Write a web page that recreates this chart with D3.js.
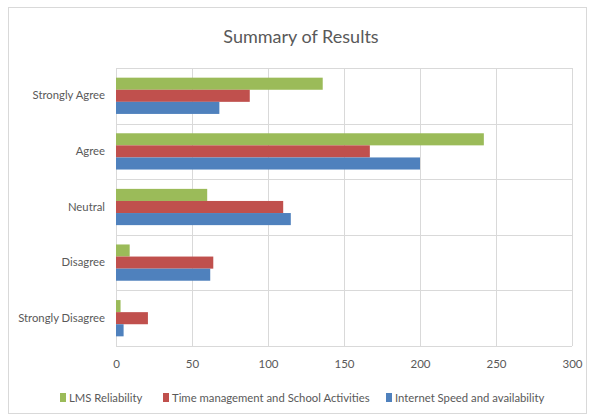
<!DOCTYPE html>
<html>
<head>
<meta charset="utf-8">
<script src="https://cdn.jsdelivr.net/npm/d3@7"></script>
<style>
  html, body { margin: 0; padding: 0; background: #fff; }
  svg { display: block; }
  text { font-family: Lato, "Open Sans", sans-serif; fill: #595959; }
</style>
</head>
<body>
<svg id="chart" width="589" height="420"></svg>
<script>
// Survey responses per category, one array per series
const categories = ["Strongly Agree", "Agree", "Neutral", "Disagree", "Strongly Disagree"];
const seriesNames = ["LMS Reliability", "Time management and School Activities", "Internet Speed and availability"];
const lmsReliability = [136, 242, 60, 9, 3];
const timeManagement = [88, 167, 110, 64, 21];
const internetSpeed = [68, 200, 115, 62, 5];
const xTicks = [0, 50, 100, 150, 200, 250, 300];
const colors = ["#9BBB59", "#C0504D", "#4F81BD"];

const seriesValues = [lmsReliability, timeManagement, internetSpeed];
const rows = categories.map((c, i) => ({
  category: c,
  values: seriesValues.map((vals, s) => ({ series: seriesNames[s], value: vals[i], idx: s }))
}));

const svg = d3.select("#chart");
const W = 589, H = 420;
const margin = { left: 116, right: 17, top: 68, bottom: 74 };
const plotW = W - margin.left - margin.right;
const plotH = H - margin.top - margin.bottom;

// Chart frame
svg.append("rect")
  .attr("x", 8.5).attr("y", 7.5)
  .attr("width", 578).attr("height", 406)
  .attr("fill", "#fff").attr("stroke", "#D9D9D9");

svg.append("text")
  .attr("x", 301).attr("y", 43)
  .attr("text-anchor", "middle")
  .style("font-size", "18px")
  .text("Summary of Results");

const g = svg.append("g").attr("transform", `translate(${margin.left},${margin.top})`);

const x = d3.scaleLinear().domain([0, 300]).range([0, plotW]);
const y = d3.scaleBand().domain(categories).range([0, plotH]);
const inner = d3.scaleBand().domain(seriesNames)
  .range([0, y.bandwidth()]).paddingOuter(0.8);

// Vertical gridlines
g.append("g").selectAll("line").data(xTicks).join("line")
  .attr("x1", d => Math.round(x(d)) + 0.5).attr("x2", d => Math.round(x(d)) + 0.5)
  .attr("y1", 0).attr("y2", plotH)
  .attr("stroke", "#D9D9D9");

// Horizontal band separators
g.append("g").selectAll("line").data(d3.range(categories.length + 1)).join("line")
  .attr("x1", 0).attr("x2", plotW)
  .attr("y1", d => Math.round(d * y.step()) + 0.5).attr("y2", d => Math.round(d * y.step()) + 0.5)
  .attr("stroke", "#D9D9D9");

// Bars
g.append("g").selectAll("g").data(rows).join("g")
  .attr("transform", d => `translate(0,${y(d.category)})`)
  .selectAll("rect").data(d => d.values).join("rect")
  .attr("x", x(0))
  .attr("y", d => inner(d.series))
  .attr("height", inner.bandwidth())
  .attr("width", d => x(d.value) - x(0))
  .attr("fill", d => colors[d.idx]);

// Category axis
const yAxis = g.append("g").call(d3.axisLeft(y).tickSize(0).tickPadding(11));
yAxis.select(".domain").remove();
yAxis.selectAll("text").style("font-size", "11.3px").attr("fill", "#595959");

// Value axis
const xAxis = g.append("g").attr("transform", `translate(0,${plotH})`)
  .call(d3.axisBottom(x).tickValues(xTicks).tickSize(0).tickPadding(14));
xAxis.select(".domain").remove();
xAxis.selectAll("text").style("font-size", "11.5px").attr("fill", "#595959");

// Legend
const legendX = [60, 163, 386];
const legend = svg.append("g").attr("transform", "translate(0,398)");
const item = legend.selectAll("g").data(seriesNames).join("g")
  .attr("transform", (d, i) => `translate(${legendX[i]},0)`);
item.append("rect")
  .attr("x", 0).attr("y", -5).attr("width", 6).attr("height", 9)
  .attr("fill", (d, i) => colors[i]);
item.append("text")
  .attr("x", 9).attr("y", 4)
  .style("font-size", "11.3px")
  .text(d => d);
</script>
</body>
</html>
